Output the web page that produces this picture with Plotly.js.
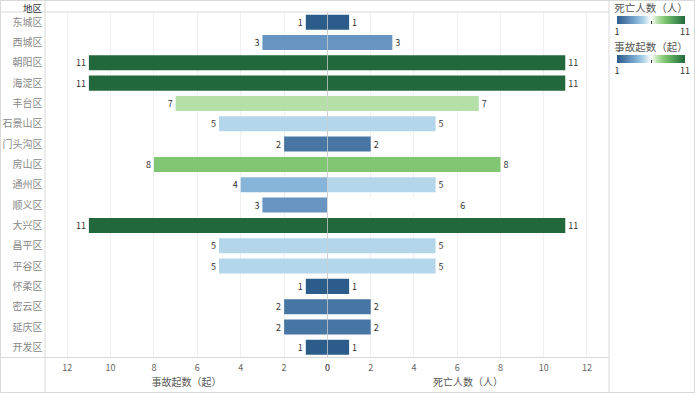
<!DOCTYPE html>
<html><head><meta charset="utf-8">
<script src="https://cdn.plot.ly/plotly-3.0.1.min.js"></script>
<style>html,body{margin:0;padding:0;background:#fff}#chart{width:695px;height:393px}</style>
</head><body><div id="chart"></div>
<script>
const districts = ['东城区','西城区','朝阳区','海淀区','丰台区','石景山区','门头沟区','房山区','通州区','顺义区','大兴区','昌平区','平谷区','怀柔区','密云区','延庆区','开发区'];
const accidents = [1,3,11,11,7,5,2,8,4,3,11,5,5,1,2,2,1];
const deaths    = [1,3,11,11,7,5,2,8,5,6,11,5,5,1,2,2,1];
const leftTitle = '事故起数（起）';
const rightTitle = '死亡人数（人）';
const headerText = '地区';

const cs = [[0,'#2c5c8a'],[0.1,'#4776a4'],[0.2,'#6794c0'],[0.3,'#87b5d9'],[0.4,'#b3d6ea'],[0.5,'#ffffff'],[0.6,'#b4e0a8'],[0.7,'#80c673'],[0.85,'#4b9a56'],[1,'#23683c']];
const W=695,H=393;
const px = v => v/W, py = v => 1 - v/H;
const font = "'Noto Sans CJK SC', 'Noto Sans', sans-serif";
const mid = 327.5;

function cb(title, yTop){
  return {orientation:'h', x:px(617), xanchor:'left', y:py(yTop), yanchor:'top',
    len:68, lenmode:'pixels', thickness:8, outlinewidth:0,
    title:{text:title, side:'top', font:{size:10.5,color:'#555',family:font}},
    tickvals:[1,6,11], ticktext:['1','','11'], ticks:'inside', ticklen:3, tickcolor:'#333',
    tickfont:{size:9,color:'#333',family:font}, ypad:0, xpad:0};
}

const traces = [
  {type:'bar', orientation:'h', y:districts, x:accidents, xaxis:'x', yaxis:'y',
   text:accidents.map(String), textposition:'outside', cliponaxis:false,
   textfont:{size:9,color:'#333',family:font},
   marker:{color:accidents, colorscale:cs, cmin:1, cmax:11, showscale:true, colorbar:cb(leftTitle, 40)},
   hoverinfo:'none'},
  {type:'bar', orientation:'h', y:districts, x:deaths, xaxis:'x2', yaxis:'y2',
   text:deaths.map(String), textposition:'outside', cliponaxis:false,
   textfont:{size:9,color:'#333',family:font},
   marker:{color:deaths, colorscale:cs, cmin:1, cmax:11, showscale:true, colorbar:cb(rightTitle, 1)},
   hoverinfo:'none'}
];

const lineC = '#d9d9d9';
const shapes = [
  {type:'line',xref:'paper',yref:'paper',x0:px(45),x1:px(45),y0:0,y1:1,line:{color:lineC,width:1}},
  {type:'line',xref:'paper',yref:'paper',x0:px(609),x1:px(609),y0:0,y1:1,line:{color:lineC,width:1}},
  {type:'line',xref:'paper',yref:'paper',x0:0,x1:px(609),y0:py(12),y1:py(12),line:{color:lineC,width:1}},
  {type:'line',xref:'paper',yref:'paper',x0:0,x1:px(609),y0:py(357.5),y1:py(357.5),line:{color:lineC,width:1}},
  {type:'rect',xref:'paper',yref:'paper',x0:px(0.5),x1:px(694.5),y0:py(392.5),y1:py(0.5),line:{color:lineC,width:1}}
];

const axCommon = {showgrid:true, gridcolor:'#efefef', gridwidth:1, zeroline:true, zerolinecolor:'#cfcfcf', zerolinewidth:1,
  tickvals:[0,2,4,6,8,10,12], tickfont:{size:9,color:'#666',family:font}, ticks:'', showline:false, fixedrange:true,
  ticklabelstandoff:3};

const layout = {
  width:W, height:H, margin:{l:0,r:0,t:0,b:0}, paper_bgcolor:'#fff', plot_bgcolor:'#fff',
  font:{family:font}, showlegend:false, bargap:0.26,
  xaxis: Object.assign({}, axCommon, {domain:[px(45.5), px(mid)], range:[13,0], anchor:'y',
    title:{text:leftTitle, font:{size:10,color:'#555',family:font}, standoff:3}}),
  xaxis2: Object.assign({}, axCommon, {domain:[px(mid), px(608.5)], range:[0,13], anchor:'y2',
    title:{text:rightTitle, font:{size:10,color:'#555',family:font}, standoff:3}}),
  yaxis: {domain:[py(357.5), py(12)], autorange:'reversed', type:'category', anchor:'x',
    tickfont:{size:10,color:'#888',family:font}, ticks:'', showgrid:false, zeroline:false, ticklabelstandoff:2, fixedrange:true},
  yaxis2: {domain:[py(357.5), py(12)], autorange:'reversed', type:'category', anchor:'x2', matches:'y',
    showticklabels:false, ticks:'', showgrid:false, zeroline:false, fixedrange:true},
  shapes: shapes,
  annotations:[{text:headerText, xref:'paper', yref:'paper', x:px(44), y:py(0), xanchor:'right', yanchor:'top',
    showarrow:false, borderpad:0, font:{size:9.5,color:'#333',family:font}}]
};
Plotly.newPlot('chart', traces, layout, {displayModeBar:false, staticPlot:true});
</script></body></html>
